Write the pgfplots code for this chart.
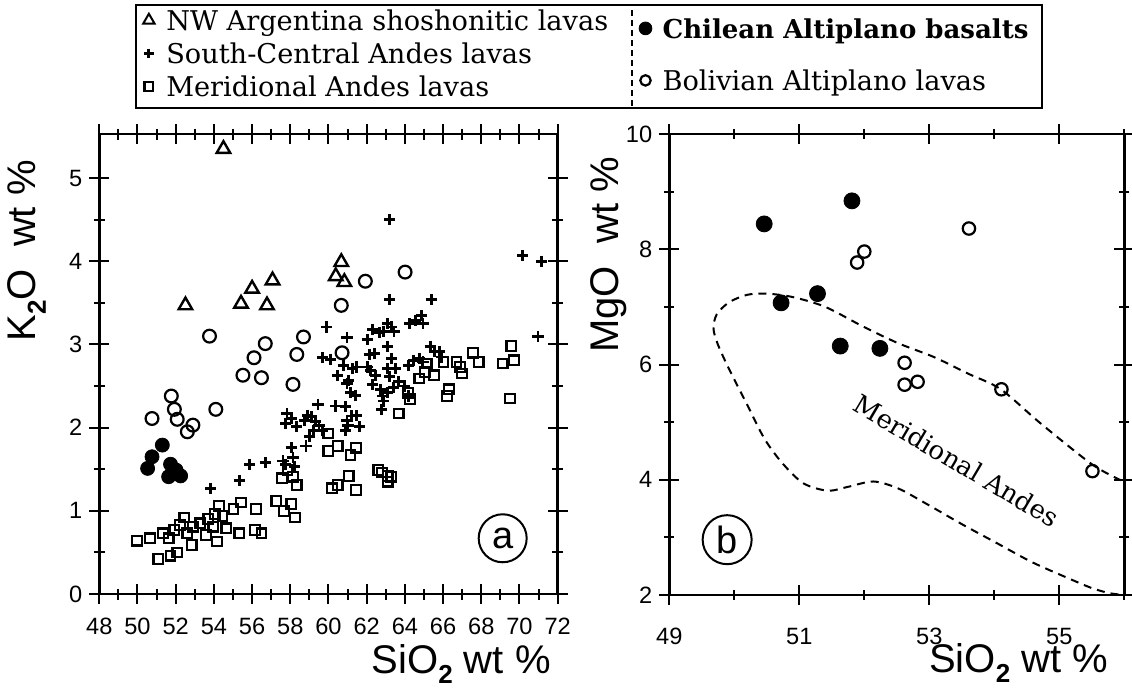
\documentclass[border=0pt]{standalone}
\usepackage{fontspec}
\setmainfont{Liberation Sans}
\newfontfamily\seriffont{DejaVu Serif}
\usepackage{pgfplots}
\pgfplotsset{compat=1.18}

\pgfplotsset{
  geo/.style={
    scale only axis,
    axis line style={line width=1.3pt},
    every tick/.style={black, line width=1pt},
    tick align=center,
    major tick length=10pt,
    minor tick length=5.5pt,
    tick label style={font=\fontsize{11.8}{12}\selectfont},
    /pgf/number format/assume math mode=true,
    label style={font=\fontsize{20}{20}\selectfont},
    legend cell align=left,
    legend image code/.code={\draw[#1] plot coordinates {(0pt,1.5pt)}; \path (-4pt,0pt) (7pt,0pt);},
  },
  tri/.style={only marks, mark=triangle, mark size=3.9pt, line width=1.2pt, black},
  pls/.style={only marks, mark=+, mark size=2.8pt, line width=1.4pt, black},
  sqr/.style={only marks, mark=square, mark size=2.4pt, line width=1.1pt, black},
  chl/.style={only marks, mark=*, mark size=3.5pt, black},
  bol/.style={only marks, mark=o, mark size=3.2pt, line width=1.1pt, black},
}

\begin{document}
\begin{tikzpicture}
\useasboundingbox (0,0) rectangle (566pt,349pt);

% panel a: K2O vs SiO2
\begin{axis}[geo,
  at={(49.65pt,52pt)}, anchor=south west,
  width=229.2pt, height=230pt,
  xmin=48, xmax=72, ymin=0, ymax=5.53,
  xtick={48,50,...,72}, minor x tick num=1,
  ytick={0,1,...,5}, minor y tick num=1,
  xticklabel shift=3.5pt,
  xlabel={SiO\raisebox{-5pt}{\fontsize{13}{13}\selectfont\bfseries 2}\ wt~\%},
  ylabel={K\raisebox{-5pt}{\fontsize{13}{13}\selectfont\bfseries 2}O\ \ wt~\%},
  x label style={at={(axis description cs:1,-0.172)}, anchor=base east},
  y label style={at={(axis description cs:-0.158,0.746)}, anchor=center},
  legend style={at={(axis description cs:0.0868,1.274)}, anchor=north west,
    draw=none, fill=none, inner sep=0pt, row sep=1.5pt,
    font=\seriffont\fontsize{13.6}{16}\selectfont,
    nodes={inner sep=1pt, text height=10pt, text depth=3pt}},
]
\addlegendimage{tri, mark size=3.3pt, line width=1pt}\addlegendentry{NW Argentina shoshonitic lavas}
\addlegendimage{pls, mark size=2.4pt}\addlegendentry{South-Central Andes lavas}
\addlegendimage{sqr, mark size=2.2pt}\addlegendentry{Meridional Andes lavas}

\addplot[sqr, forget plot] coordinates {
(49.98,0.64) (50.66,0.67) (51.09,0.42) (51.34,0.73) (51.73,0.46) (52.08,0.50)
(51.93,0.77) (51.63,0.67) (52.22,0.83) (52.45,0.92) (52.61,0.73) (52.84,0.59)
(52.90,0.81) (53.29,0.85) (53.58,0.71) (53.71,0.90) (53.97,0.81) (54.16,0.63)
(54.26,1.06) (54.45,0.94) (54.06,0.96) (54.65,0.79) (55.03,1.02) (55.33,0.73)
(55.42,1.10) (56.20,1.02) (56.16,0.77) (56.49,0.73) (57.27,1.12) (57.66,1.00)
(57.56,1.39) (58.05,1.08) (58.24,0.92) (57.85,1.49) (58.14,1.41) (58.34,1.31)
(59.99,1.93) (59.99,1.72) (60.48,1.78) (60.18,1.27) (60.48,1.31) (61.06,1.42)
(61.15,1.67) (61.45,1.76) (61.45,1.25) (62.61,1.49) (62.81,1.46) (63.10,1.42)
(63.10,1.35) (63.29,1.41) (63.68,2.17) (64.26,2.34) (64.17,2.42) (64.75,2.59)
(65.04,2.67) (65.53,2.63) (65.14,2.77) (66.02,2.79) (66.21,2.38) (66.31,2.46)
(66.70,2.79) (66.89,2.73) (66.99,2.65) (67.57,2.90) (67.86,2.79) (69.12,2.77)
(69.57,2.98) (69.71,2.81) (69.51,2.35)
};
\addplot[pls, forget plot] coordinates {
(53.83,1.27) (55.33,1.36) (55.87,1.56) (56.69,1.58) (57.62,1.60) (58.05,1.76)
(58.14,1.64) (57.75,1.56) (58.24,1.53) (57.83,2.17) (57.75,2.05) (58.34,2.01)
(58.05,2.11) (58.73,2.09) (58.92,2.15) (59.12,2.13) (59.45,2.28) (58.82,1.78)
(59.02,1.89) (59.21,1.97) (59.50,2.03) (59.31,2.07) (59.70,1.97) (59.89,3.21)
(59.70,2.84) (60.09,2.82) (60.38,2.26) (60.87,2.25) (60.48,2.63) (60.97,3.08)
(60.77,2.75) (61.06,2.57) (61.25,2.71) (61.45,2.73) (60.97,2.53) (61.17,2.42)
(61.41,2.39) (60.97,2.09) (61.21,2.14) (61.45,2.15) (61.64,2.01) (60.87,1.97)
(61.02,2.03) (62.03,3.06) (62.32,3.18) (62.13,2.88) (62.42,2.89) (62.03,2.73)
(62.22,2.69) (62.46,2.63) (62.32,2.52) (62.65,3.14) (62.90,3.16) (63.10,3.25)
(63.29,3.21) (63.43,3.16) (63.20,3.54) (63.20,4.50) (63.10,2.98) (63.29,2.83)
(63.10,2.71) (63.49,2.71) (63.20,2.61) (62.71,2.46) (62.81,2.38) (62.90,2.32)
(62.77,2.22) (63.10,2.42) (63.39,2.48) (63.68,2.55) (63.97,2.50) (64.17,2.38)
(64.26,3.25) (64.56,3.29) (64.85,3.35) (64.95,3.25) (65.38,3.54) (64.17,2.75)
(64.46,2.81) (64.75,2.83) (64.95,2.79) (65.33,2.98) (65.53,2.92) (65.82,2.92)
(65.92,2.85) (70.15,4.07) (71.16,4.00) (70.97,3.10)
};
\addplot[tri, forget plot] coordinates {
(54.5,5.35) (52.51,3.47) (55.42,3.49) (56.0,3.67) (56.78,3.47) (57.07,3.77)
(60.67,3.99) (60.38,3.82) (60.83,3.75)
};
\addplot[bol, forget plot] coordinates {
(50.76,2.11) (51.77,2.38) (51.93,2.22) (52.08,2.10) (52.61,1.95) (52.90,2.03)
(53.77,3.10) (54.10,2.22) (55.52,2.63) (56.10,2.84) (56.49,2.60) (56.69,3.01)
(58.14,2.52) (58.34,2.88) (58.69,3.09) (60.67,3.47) (60.71,2.90) (61.93,3.76)
(64.01,3.87)
};
\addplot[chl, forget plot] coordinates {
(50.53,1.51) (50.76,1.65) (51.30,1.79) (51.73,1.56) (51.63,1.41) (52.02,1.49)
(52.26,1.42)
};
\node[circle, draw, line width=1pt, minimum size=24pt, inner sep=0pt,
  font=\fontsize{19}{19}\selectfont] at (axis cs:69.12,0.67) {a};
\end{axis}

% panel b: MgO vs SiO2
\begin{axis}[geo,
  at={(334.65pt,51.5pt)}, anchor=south west,
  width=227.5pt, height=230.5pt,
  xmin=49, xmax=56, ymin=2, ymax=10,
  xtick={49,51,53,55}, minor xtick={50,52,54,56},
  ytick={2,4,...,10}, minor ytick={3,5,7,9},
  minor tick length=5pt,
  xticklabel shift=8pt,
  xlabel={SiO\raisebox{-5pt}{\fontsize{13}{13}\selectfont\bfseries 2}\ wt~\%},
  ylabel={MgO\ \ wt~\%},
  x label style={at={(axis description cs:0.98,-0.169)}, anchor=base east},
  y label style={at={(axis description cs:-0.133,0.738)}, anchor=center},
  legend style={at={(axis description cs:-0.0732,1.256)}, anchor=north west,
    draw=none, fill=none, inner sep=0pt, row sep=11pt,
    font=\seriffont\fontsize{13.6}{16}\selectfont,
    nodes={inner sep=1pt, text height=10pt, text depth=3pt}},
]
\addlegendimage{chl, mark size=3.2pt}\addlegendentry{\fontsize{13}{16}\selectfont\bfseries Chilean Altiplano basalts}
\addlegendimage{bol, mark size=2.6pt}\addlegendentry{Bolivian Altiplano lavas}

\addplot[black, line width=1pt, dash pattern=on 4pt off 3pt, smooth, forget plot] coordinates {
(55.95,3.99) (55.5,4.27) (54.7,4.99) (54.1,5.57) (53.6,5.84) (53.07,6.13)
(52.52,6.37) (51.98,6.66) (51.4,7.0) (50.9,7.17) (50.5,7.23) (50.2,7.21)
(49.92,7.08) (49.73,6.87) (49.68,6.62) (49.75,6.34) (49.92,5.92) (50.19,5.32)
(50.46,4.72) (50.73,4.30) (51.06,3.94) (51.44,3.81) (51.76,3.88) (52.14,3.97)
(52.52,3.85) (52.96,3.58) (53.5,3.23) (54.04,2.90) (54.58,2.57) (55.12,2.30)
(55.5,2.12) (55.78,2.03) (56.0,2.0)
};
\addplot[chl, mark size=4pt, forget plot] coordinates {
(50.46,8.44) (51.81,8.84) (50.72,7.07) (51.28,7.23) (51.63,6.32) (52.24,6.28)
};
\addplot[bol, mark size=3.1pt, forget plot] coordinates {
(53.61,8.36) (52.00,7.96) (51.89,7.77) (52.62,6.03) (52.62,5.65) (52.82,5.70)
(54.11,5.57) (55.51,4.15)
};
\node[rotate=-30.6, font=\seriffont\fontsize{13}{13}\selectfont] at (axis cs:53.42,4.33) {Meridional Andes};
\node[circle, draw, line width=1pt, minimum size=24.5pt, inner sep=0pt,
  font=\fontsize{19}{19}\selectfont] at (axis cs:49.89,2.96) {b};
\end{axis}

% legend frame with dashed divider
\draw[line width=1pt] (68pt,295pt) rectangle (521pt,346.5pt);
\draw[line width=0.8pt, dash pattern=on 3pt off 2pt] (316pt,296pt) -- (316pt,345.5pt);
\end{tikzpicture}
\end{document}
